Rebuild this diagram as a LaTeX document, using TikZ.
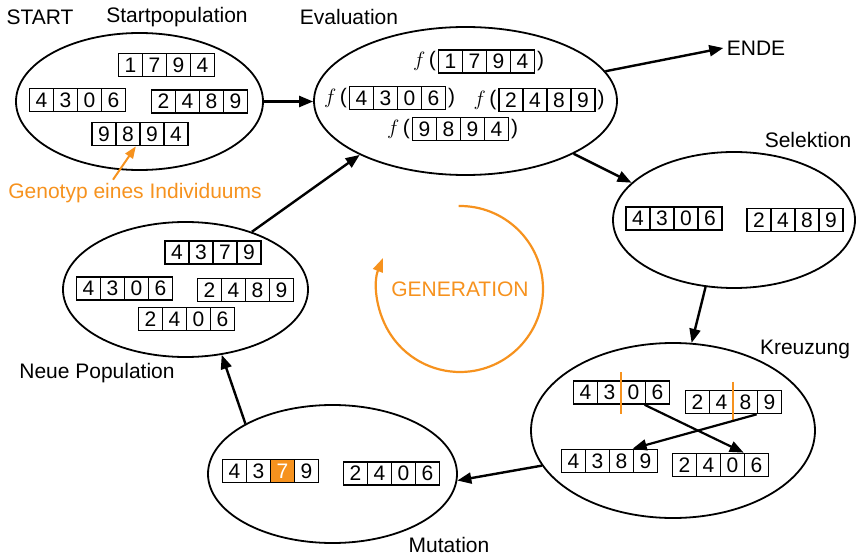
\documentclass[tikz,border=0pt]{standalone}
\usepackage{fontspec}
\setmainfont{Liberation Sans}
\usetikzlibrary{shapes.geometric,arrows.meta}

\definecolor{genorange}{RGB}{246,146,30}

\tikzset{
  every node/.style={font=\fontsize{21}{25}\selectfont},
  pop/.style={draw, ellipse, line width=1.8pt, inner sep=0pt},
  cell/.style={draw, line width=1.7pt, minimum width=24, minimum height=23, inner sep=0pt},
  mutcell/.style={cell, fill=genorange, text=white},
  paren/.style={inner sep=1.5pt},
  flow/.style={line width=2.4pt, -{Triangle[length=14pt,width=11pt]}},
  cut/.style={genorange, line width=2pt},
}

% one genotype: four cells named <name>-1 ... <name>-4 around a centre
% optional argument: number of the mutated cell
\newcommand\genome[4][0]{%
  \foreach \d [count=\i] in {#4} {
    \ifnum\i=#1\relax \def\cellstyle{mutcell}\else\def\cellstyle{cell}\fi
    \node[\cellstyle, xshift={(\i-2.5)*24}] (#2-\i) at #3 {\d};
  }%
}

\begin{document}
\begin{tikzpicture}[x=1pt,y=1pt]
  \useasboundingbox (0,0) rectangle (857,-556);

  % populations
  \node[pop, minimum width=247, minimum height=137] (startpop) at (139.5,-101.5) {};
  \node[pop, minimum width=303, minimum height=148] (eval) at (465.5,-101) {};
  \node[pop, minimum width=242, minimum height=136] (sel) at (734,-220) {};
  \node[pop, minimum width=284, minimum height=175] (kreuz) at (673,-430.5) {};
  \node[pop, minimum width=249, minimum height=138] (mut) at (332.5,-474) {};
  \node[pop, minimum width=245, minimum height=135] (newpop) at (185.5,-289.5) {};

  % labels
  \node (start) at (40,-17) {START};
  \node (lbl-sp) at (177,-17) {Startpopulation};
  \node (lbl-ev) at (349,-17) {Evaluation};
  \node (ende) at (756,-48) {ENDE};
  \node (lbl-sel) at (808,-140) {Selektion};
  \node (lbl-kr) at (805,-349) {Kreuzung};
  \node (lbl-np) at (97,-373) {Neue Population};
  \node[anchor=base] (lbl-mut) at (449,-552) {Mutation};
  \node[text=genorange] (gentext) at (135,-193) {Genotyp eines Individuums};
  \node[text=genorange] (gen) at (460,-289) {GENERATION};

  % Startpopulation
  \genome{sp1}{(166.5,-65)}{1,7,9,4}
  \genome{sp2}{(77.5,-100)}{4,3,0,6}
  \genome{sp3}{(199.5,-101.5)}{2,4,8,9}
  \genome{sp4}{(140,-134)}{9,8,9,4}

  % Evaluation
  \genome{ev1}{(486.5,-61.5)}{1,7,9,4}
  \genome{ev2}{(397.5,-98)}{4,3,0,6}
  \genome{ev3}{(547,-100)}{2,4,8,9}
  \genome{ev4}{(460.5,-129)}{9,8,9,4}
  \foreach \g in {ev1,ev2,ev3,ev4} {
    \node[paren, anchor=east] (\g-l) at (\g-1.west) {$f$\,(};
    \node[paren, anchor=west] (\g-r) at (\g-4.east) {)};
  }

  % Selektion
  \genome{se1}{(674,-218.5)}{4,3,0,6}
  \genome{se2}{(795,-220)}{2,4,8,9}

  % Kreuzung
  \genome{k1}{(621.5,-392.5)}{4,3,0,6}
  \genome{k2}{(733.5,-402)}{2,4,8,9}
  \genome{k3}{(609.5,-461)}{4,3,8,9}
  \genome{k4}{(720.5,-465)}{2,4,0,6}
  \draw[cut] ([yshift=8]k1-3.north west) -- ([yshift=-9]k1-3.south west);
  \draw[cut] ([yshift=8]k2-3.north west) -- ([yshift=-7]k2-3.south west);
  \draw[flow, line width=2.2pt] (k1-4.south west) -- (k4-4.north west);
  \draw[flow, line width=2.2pt] (k2-4.south west) -- (k3-4.north west);

  % Mutation
  \genome[3]{mu1}{(270.5,-471)}{4,3,7,9}
  \genome{mu2}{(391.5,-473.5)}{2,4,0,6}

  % Neue Population
  \genome{np1}{(213,-252.5)}{4,3,7,9}
  \genome{np2}{(124.5,-288.5)}{4,3,0,6}
  \genome{np3}{(245.5,-290)}{2,4,8,9}
  \genome{np4}{(186.5,-319)}{2,4,0,6}

  % cycle
  \draw[flow] (startpop.east) -- (startpop.east -| eval.west);
  \draw[flow] (eval.12.7) -- (ende.west);
  \draw[flow] (eval.-26.7) -- (sel.160);
  \draw[flow] (sel.-113) -- (kreuz.78);
  \draw[flow] (kreuz.195) -- (mut.-3);
  \draw[flow] (mut.150.8) -- (newpop.-61.6);
  \draw[flow] (newpop.41.7) -- (eval.207.5);

  % genotype hint and generation loop
  \draw[genorange, line width=2pt, -{Triangle[length=12pt,width=9pt]}]
    ([xshift=-22]gentext.north) -- ([xshift=-5]sp4-2.south east);
  \draw[genorange, line width=2.2pt, -{Triangle[length=14pt,width=10pt]}]
    (gen.center) ++(91:83) arc[start angle=91, end angle=-202, radius=83];
\end{tikzpicture}
\end{document}
